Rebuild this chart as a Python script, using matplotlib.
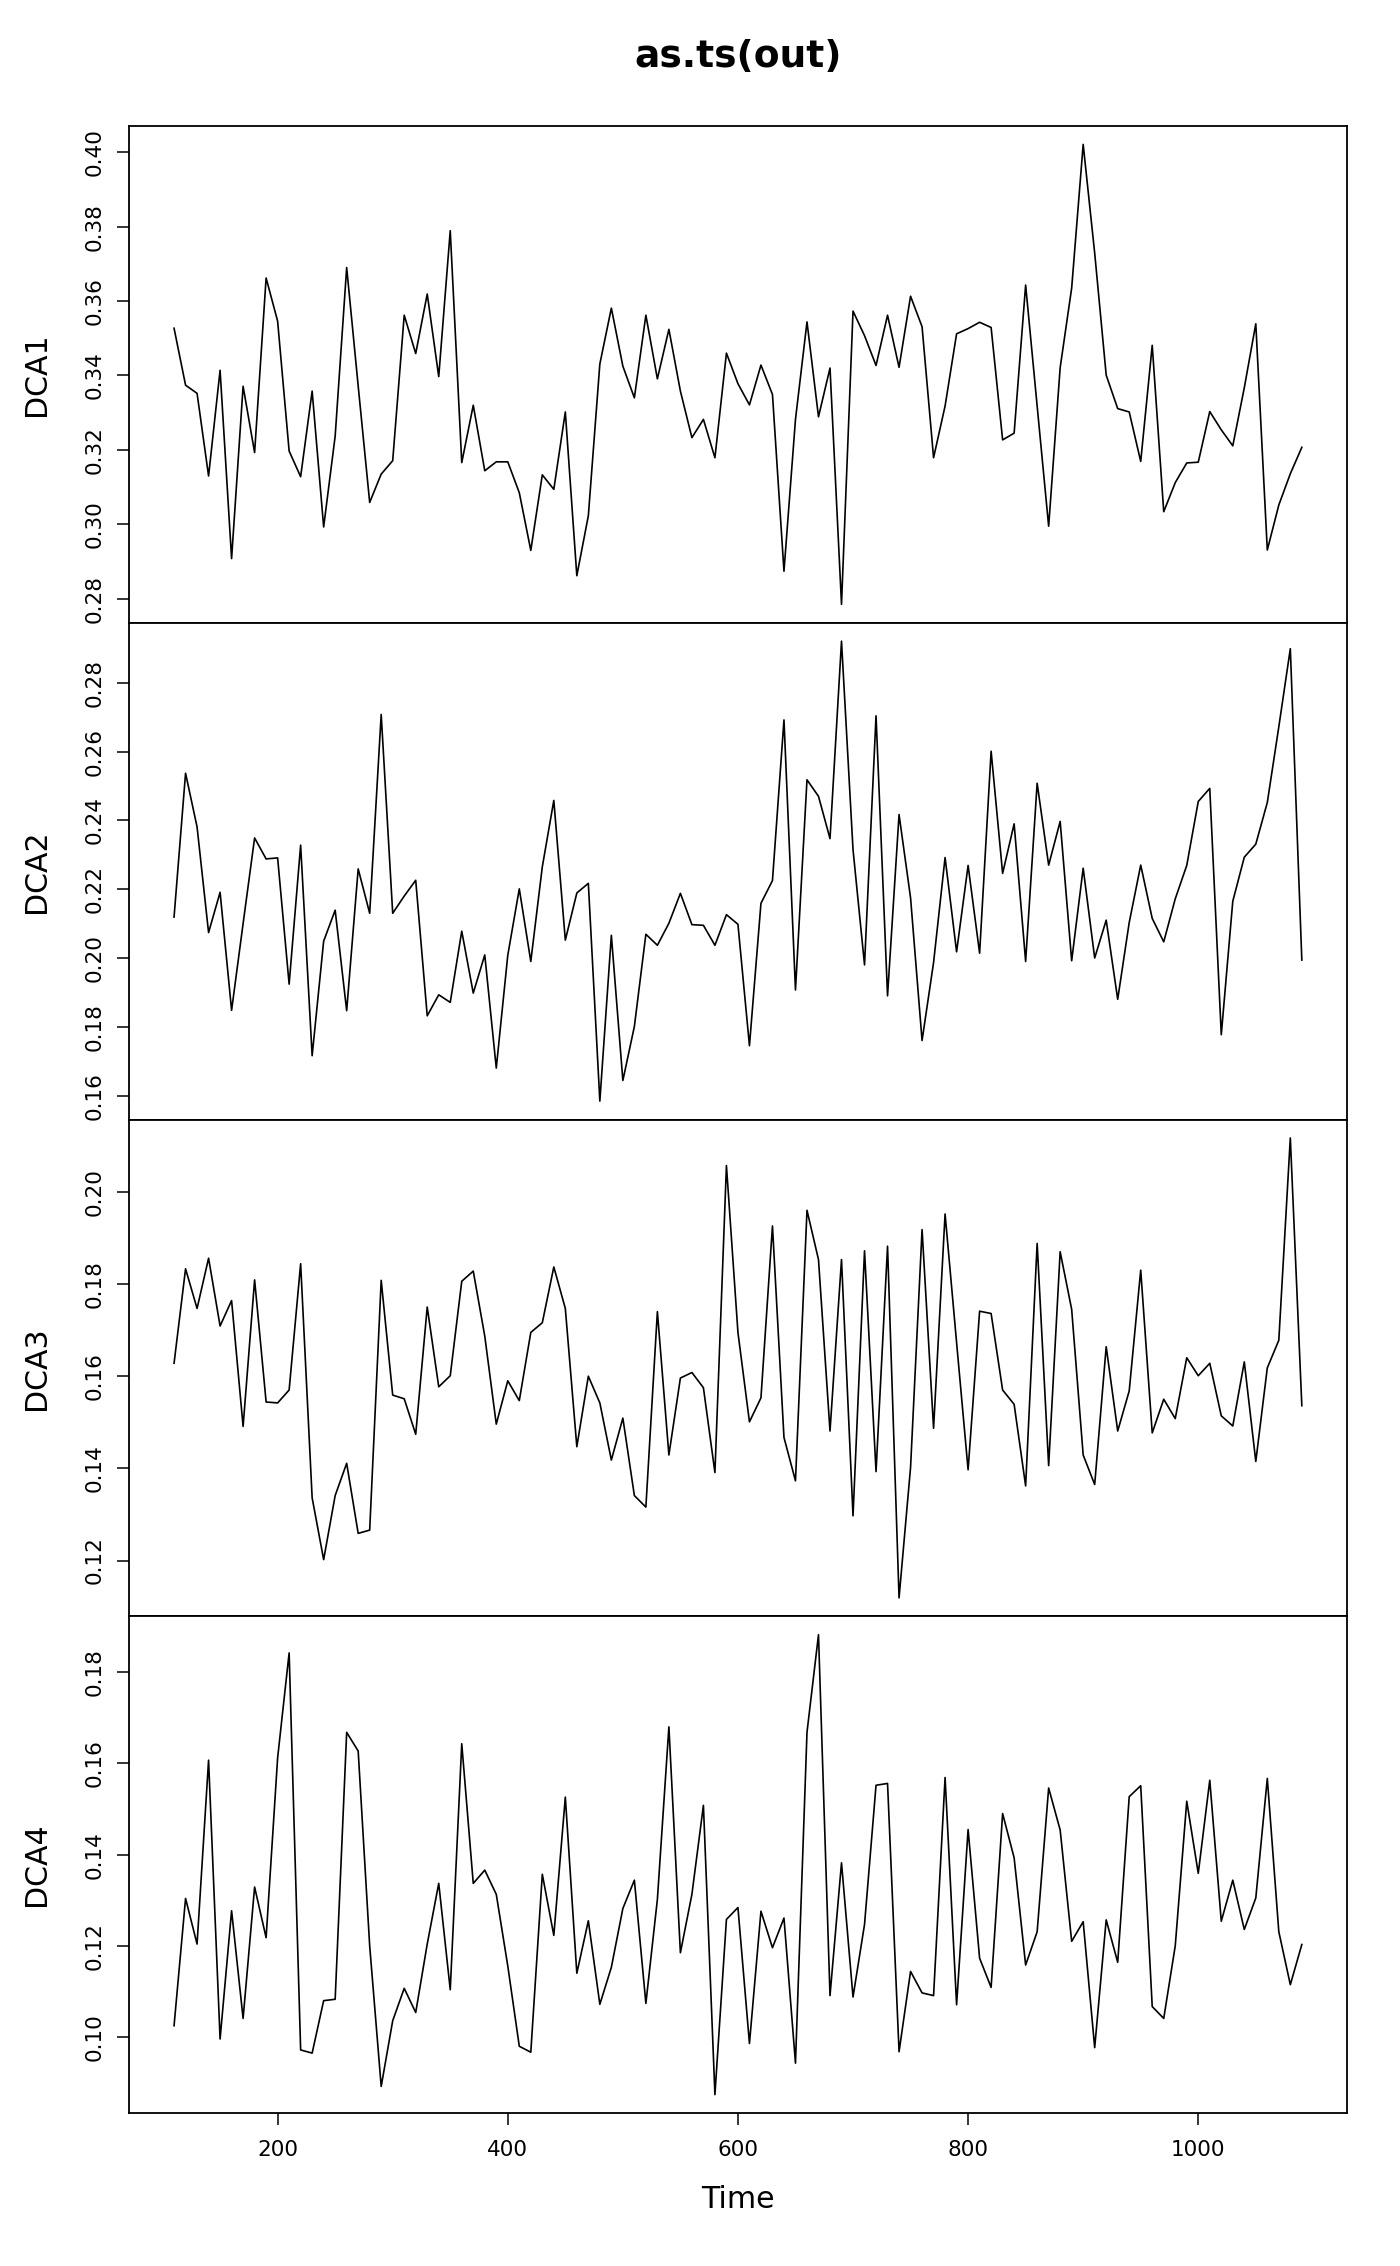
import numpy as np
import matplotlib
matplotlib.use('Agg')
import matplotlib.pyplot as plt
from matplotlib.ticker import MultipleLocator, FormatStrFormatter

# time index of the series (start 110, step 10)
time = np.arange(110, 1091, 10)

dca1 = [0.3527, 0.3374, 0.3352, 0.3130, 0.3414, 0.2908, 0.3371, 0.3193, 0.3662, 0.3546,
        0.3197, 0.3128, 0.3358, 0.2993, 0.3237, 0.3690, 0.3372, 0.3059, 0.3135, 0.3171,
        0.3562, 0.3459, 0.3619, 0.3397, 0.3789, 0.3166, 0.3320, 0.3144, 0.3168, 0.3168,
        0.3085, 0.2930, 0.3133, 0.3094, 0.3302, 0.2862, 0.3023, 0.3431, 0.3581, 0.3425,
        0.3340, 0.3562, 0.3391, 0.3524, 0.3358, 0.3233, 0.3282, 0.3179, 0.3460, 0.3378,
        0.3321, 0.3428, 0.3349, 0.2874, 0.3282, 0.3544, 0.3289, 0.3420, 0.2785, 0.3573,
        0.3507, 0.3427, 0.3562, 0.3422, 0.3613, 0.3531, 0.3179, 0.3318, 0.3512, 0.3526,
        0.3543, 0.3529, 0.3227, 0.3245, 0.3643, 0.3318, 0.2995, 0.3421, 0.3635, 0.4021,
        0.3729, 0.3401, 0.3311, 0.3302, 0.3169, 0.3481, 0.3034, 0.3112, 0.3165, 0.3167,
        0.3303, 0.3254, 0.3211, 0.3367, 0.3539, 0.2931, 0.3052, 0.3136, 0.3207]

dca2 = [0.2119, 0.2537, 0.2381, 0.2074, 0.2191, 0.1848, 0.2100, 0.2349, 0.2288, 0.2291,
        0.1924, 0.2328, 0.1716, 0.2049, 0.2139, 0.1847, 0.2259, 0.2130, 0.2708, 0.2130,
        0.2180, 0.2226, 0.1832, 0.1893, 0.1871, 0.2078, 0.1898, 0.2009, 0.1680, 0.2008,
        0.2201, 0.1990, 0.2265, 0.2458, 0.2052, 0.2189, 0.2217, 0.1584, 0.2066, 0.1644,
        0.1801, 0.2069, 0.2037, 0.2101, 0.2188, 0.2097, 0.2095, 0.2037, 0.2126, 0.2098,
        0.1745, 0.2159, 0.2225, 0.2692, 0.1907, 0.2518, 0.2470, 0.2347, 0.2921, 0.2315,
        0.1980, 0.2704, 0.1890, 0.2417, 0.2175, 0.1760, 0.1987, 0.2292, 0.2018, 0.2269,
        0.2014, 0.2601, 0.2246, 0.2390, 0.1990, 0.2508, 0.2270, 0.2397, 0.1992, 0.2261,
        0.2000, 0.2110, 0.1880, 0.2103, 0.2270, 0.2115, 0.2047, 0.2172, 0.2269, 0.2455,
        0.2493, 0.1777, 0.2165, 0.2293, 0.2331, 0.2452, 0.2672, 0.2899, 0.1994]

dca3 = [0.1628, 0.1833, 0.1747, 0.1856, 0.1709, 0.1764, 0.1491, 0.1809, 0.1544, 0.1542,
        0.1570, 0.1844, 0.1336, 0.1202, 0.1341, 0.1411, 0.1259, 0.1266, 0.1808, 0.1559,
        0.1551, 0.1474, 0.1750, 0.1577, 0.1601, 0.1806, 0.1828, 0.1687, 0.1496, 0.1590,
        0.1547, 0.1695, 0.1716, 0.1837, 0.1747, 0.1447, 0.1600, 0.1542, 0.1418, 0.1509,
        0.1341, 0.1316, 0.1740, 0.1429, 0.1596, 0.1608, 0.1575, 0.1391, 0.2057, 0.1695,
        0.1501, 0.1553, 0.1926, 0.1467, 0.1373, 0.1960, 0.1853, 0.1481, 0.1853, 0.1297,
        0.1872, 0.1393, 0.1882, 0.1119, 0.1402, 0.1918, 0.1487, 0.1952, 0.1673, 0.1397,
        0.1741, 0.1736, 0.1570, 0.1539, 0.1362, 0.1888, 0.1406, 0.1870, 0.1745, 0.1429,
        0.1365, 0.1664, 0.1481, 0.1568, 0.1830, 0.1477, 0.1550, 0.1508, 0.1640, 0.1601,
        0.1628, 0.1514, 0.1492, 0.1631, 0.1415, 0.1618, 0.1678, 0.2117, 0.1536]

dca4 = [0.1025, 0.1304, 0.1204, 0.1607, 0.0996, 0.1277, 0.1041, 0.1329, 0.1218, 0.1612,
        0.1842, 0.0972, 0.0965, 0.1080, 0.1083, 0.1668, 0.1627, 0.1200, 0.0892, 0.1036,
        0.1107, 0.1054, 0.1204, 0.1337, 0.1104, 0.1643, 0.1337, 0.1366, 0.1313, 0.1156,
        0.0980, 0.0967, 0.1357, 0.1223, 0.1526, 0.1140, 0.1255, 0.1072, 0.1153, 0.1282,
        0.1344, 0.1074, 0.1302, 0.1680, 0.1185, 0.1313, 0.1508, 0.0874, 0.1258, 0.1284,
        0.0986, 0.1276, 0.1196, 0.1261, 0.0943, 0.1668, 0.1882, 0.1091, 0.1382, 0.1088,
        0.1247, 0.1552, 0.1556, 0.0968, 0.1144, 0.1097, 0.1091, 0.1569, 0.1071, 0.1455,
        0.1173, 0.1109, 0.1490, 0.1393, 0.1158, 0.1231, 0.1546, 0.1454, 0.1210, 0.1253,
        0.0977, 0.1257, 0.1164, 0.1527, 0.1551, 0.1067, 0.1041, 0.1200, 0.1517, 0.1359,
        0.1563, 0.1254, 0.1344, 0.1236, 0.1305, 0.1567, 0.1231, 0.1115, 0.1203]

names = ['DCA1', 'DCA2', 'DCA3', 'DCA4']
series = [dca1, dca2, dca3, dca4]

fig, axes = plt.subplots(4, 1, sharex=True, figsize=(14, 22.66), dpi=100)
fig.subplots_adjust(left=0.0921, right=0.9621, top=0.9444, bottom=0.0675, hspace=0)

for ax, name, y in zip(axes, names, series):
    ax.plot(time, y, color='black', lw=1.2)
    ax.margins(x=0.04, y=0.04)
    for sp in ax.spines.values():
        sp.set_linewidth(1.3)
    ax.yaxis.set_major_locator(MultipleLocator(0.02))
    ax.yaxis.set_major_formatter(FormatStrFormatter('%.2f'))
    ax.tick_params(axis='y', direction='out', length=8.6, width=1.1, pad=9,
                   labelsize=15.5, labelrotation=90)
    for lab in ax.get_yticklabels():
        lab.set_va('center')
    ax.tick_params(axis='x', bottom=False, labelbottom=False)
    pos = ax.get_position()
    fig.text(37 / 1400, (pos.y0 + pos.y1) / 2, name, rotation=90,
             ha='center', va='center', fontsize=21.6)

axes[-1].xaxis.set_major_locator(MultipleLocator(200))
axes[-1].tick_params(axis='x', bottom=True, labelbottom=True, direction='out',
                     length=8.6, width=1.1, pad=11, labelsize=15.5)

fig.text(738 / 1400, 1 - 2199 / 2266, 'Time', ha='center', va='center', fontsize=21.6)
fig.text(738 / 1400, 1 - 57 / 2266, 'as.ts(out)', ha='center', va='center',
         fontsize=27, fontweight='bold')

plt.savefig('out.png', dpi=100)
